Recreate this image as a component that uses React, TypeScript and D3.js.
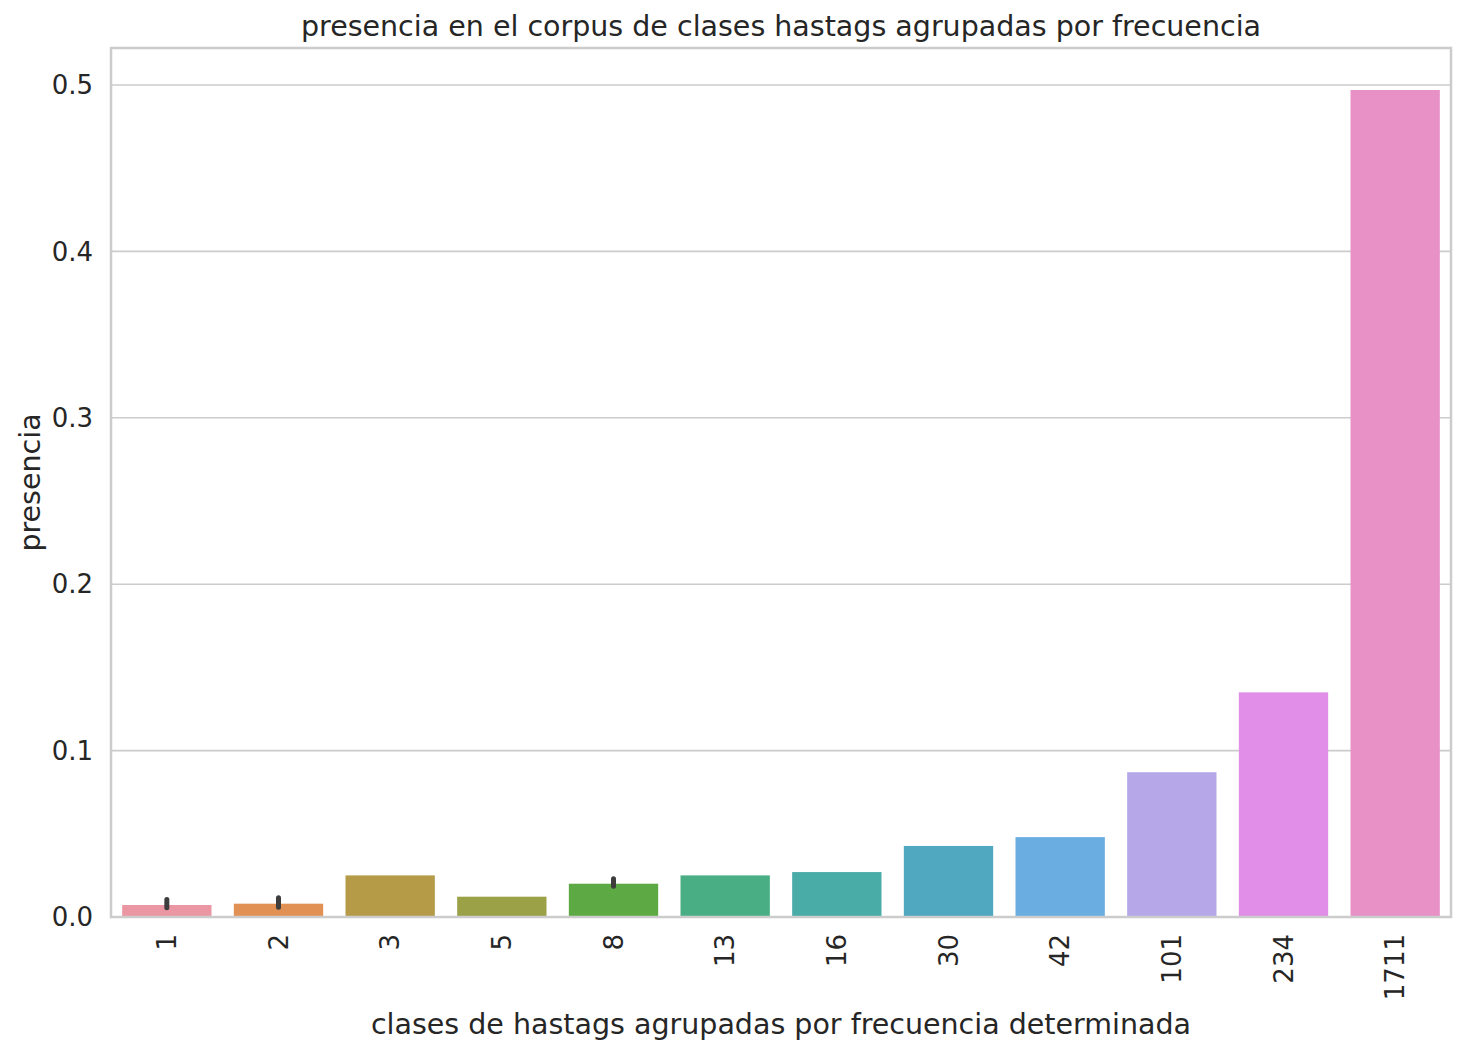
import React from "react";
import * as d3 from "d3";

const categories = ["1","2","3","5","8","13","16","30","42","101","234","1711"];
const values = [0.0072,0.008,0.025,0.0122,0.020,0.025,0.027,0.0427,0.048,0.087,0.135,0.497];
const errLow = [0.0055,0.0058,null,null,0.0185,null,null,null,null,null,null,null];
const errHigh = [0.0105,0.0115,null,null,0.023,null,null,null,null,null,null,null];
const colors = ["#ea96a3","#e19153","#b59a48","#9aa147","#5daa45","#4aae84","#4aaca7","#4fa8bf","#6aade0","#b6a7e9","#e08ee8","#e891c6"];
const yTicks = [0,0.1,0.2,0.3,0.4,0.5];

export default function App() {
  const W = 1464, H = 1054;
  const L = 111, R = 1451, T = 48, B = 917;
  const x = d3.scaleBand().domain(categories).range([L, R]).paddingInner(0.2).paddingOuter(0.1);
  const y = d3.scaleLinear().domain([0, 0.5]).range([B, 85]);
  const font = "DejaVu Sans, sans-serif";
  return (
    <svg width={W} height={H} style={{ position: "absolute", left: 0, top: 0, background: "#fff" }} fontFamily={font}>
      {yTicks.map(t => (
        <g key={t}>
          <line x1={L} x2={R} y1={y(t)} y2={y(t)} stroke="#cccccc" strokeWidth={1.6} />
          <text x={L - 18} y={y(t)} dy="0.35em" textAnchor="end" fontSize={26} fill="#262626">{t.toFixed(1)}</text>
        </g>
      ))}
      {categories.map((c, i) => (
        <g key={c}>
          <rect x={x(c)!} y={y(values[i])} width={x.bandwidth()} height={B - y(values[i])} fill={colors[i]} />
          {errLow[i] != null && (
            <line x1={x(c)! + x.bandwidth() / 2} x2={x(c)! + x.bandwidth() / 2} y1={y(errLow[i] as number)} y2={y(errHigh[i] as number)} stroke="#3d3d3d" strokeWidth={5} strokeLinecap="round" />
          )}
          <text transform={`translate(${x(c)! + x.bandwidth() / 2 + 9},${B + 17}) rotate(-90)`} textAnchor="end" fontSize={26} fill="#262626">{c}</text>
        </g>
      ))}
      <rect x={L} y={T} width={R - L} height={B - T} fill="none" stroke="#cccccc" strokeWidth={2.5} />
      <text x={(L + R) / 2} y={36} textAnchor="middle" fontSize={28.5} fill="#262626">presencia en el corpus de clases hastags agrupadas por frecuencia</text>
      <text x={(L + R) / 2} y={1034} textAnchor="middle" fontSize={28.5} fill="#262626">clases de hastags agrupadas por frecuencia determinada</text>
      <text transform={`translate(40,${(T + B) / 2}) rotate(-90)`} textAnchor="middle" fontSize={28.5} fill="#262626">presencia</text>
    </svg>
  );
}
